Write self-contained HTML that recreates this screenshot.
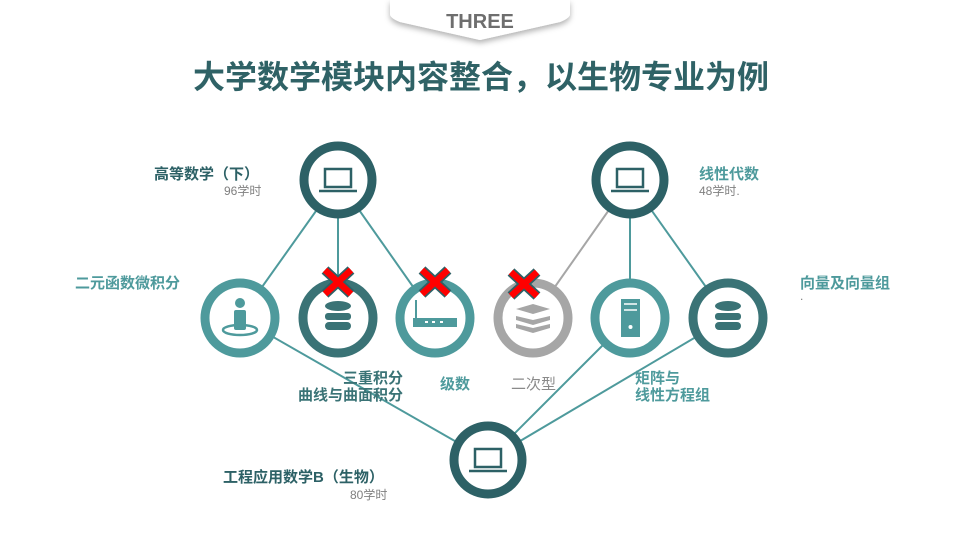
<!DOCTYPE html>
<html><head><meta charset="utf-8"><style>
body{margin:0;width:960px;height:540px;background:#fff;overflow:hidden;font-family:"Liberation Sans","Noto Sans CJK SC",sans-serif}
svg text{font-family:"Liberation Sans","Noto Sans CJK SC",sans-serif}
</style></head><body>
<svg width="960" height="540" viewBox="0 0 960 540">
<defs><filter id="sh" x="-20%" y="-50%" width="140%" height="220%"><feDropShadow dx="0" dy="3" stdDeviation="3" flood-color="#000" flood-opacity="0.3"/></filter></defs>
<path d="M390 0 L570 0 L570 14 Q570 18 560 22 L480 40 L400 22 Q390 18 390 14 Z" fill="#fff" filter="url(#sh)"/>
<text x="480" y="28" text-anchor="middle" font-size="20" font-weight="bold" fill="#6e6e6e">THREE</text>
<text x="481" y="88" text-anchor="middle" font-size="32" font-weight="bold" fill="#2f6266">大学数学模块内容整合，以生物专业为例</text>
<g stroke="#4e9a9c" stroke-width="2" fill="none">
<line x1="338" y1="180" x2="240" y2="318"/>
<line x1="338" y1="180" x2="338" y2="318"/>
<line x1="338" y1="180" x2="435" y2="318"/>
<line x1="630" y1="180" x2="630" y2="318"/>
<line x1="630" y1="180" x2="728" y2="318"/>
<line x1="240" y1="318" x2="488" y2="460"/>
<line x1="630" y1="318" x2="488" y2="460"/>
<line x1="728" y1="318" x2="488" y2="460"/>
</g>
<line x1="630" y1="180" x2="533" y2="318" stroke="#a6a6a6" stroke-width="2"/>
<g stroke-width="9" fill="#fff">
<circle cx="338" cy="180" r="34" stroke="#2d6166"/>
<circle cx="630" cy="180" r="34" stroke="#2d6166"/>
<circle cx="488" cy="460" r="34" stroke="#2d6166"/>
<circle cx="240" cy="318" r="35" stroke="#4e9a9c"/>
<circle cx="338" cy="318" r="35" stroke="#3a7376"/>
<circle cx="435" cy="318" r="35" stroke="#4e9a9c"/>
<circle cx="533" cy="318" r="35" stroke="#a6a6a6"/>
<circle cx="630" cy="318" r="35" stroke="#4e9a9c"/>
<circle cx="728" cy="318" r="35" stroke="#3a7376"/>
</g>
<g fill="none" stroke="#2d6166" stroke-width="2.5">
<rect x="325" y="169" width="26" height="18"/><line x1="319" y1="191" x2="357" y2="191"/>
<rect x="617" y="169" width="26" height="18"/><line x1="611" y1="191" x2="649" y2="191"/>
<rect x="475" y="449" width="26" height="18"/><line x1="469" y1="471" x2="507" y2="471"/>
</g>
<g fill="#4e9a9c"><circle cx="240" cy="303" r="5"/><rect x="234" y="310" width="12" height="20" rx="2"/></g>
<ellipse cx="240" cy="330" rx="17" ry="5" fill="none" stroke="#4e9a9c" stroke-width="2.5"/>
<g fill="#3a7376">
<ellipse cx="338" cy="306" rx="13" ry="5"/><rect x="325" y="313" width="26" height="7" rx="3"/><rect x="325" y="322" width="26" height="8" rx="4"/>
<ellipse cx="728" cy="306" rx="13" ry="5"/><rect x="715" y="313" width="26" height="7" rx="3"/><rect x="715" y="322" width="26" height="8" rx="4"/>
</g>
<g fill="#4e9a9c"><rect x="413" y="318" width="44" height="9"/><rect x="415" y="300" width="2" height="20"/></g>
<g fill="#fff"><rect x="425" y="321" width="3" height="2"/><rect x="432" y="321" width="3" height="2"/><rect x="440" y="321" width="3" height="2"/></g>
<g fill="#a6a6a6"><path d="M516 309 L533 304 L550 309 L533 314Z"/><path d="M516 316 L533 320 L550 316 L550 320 L533 325 L516 320Z"/><path d="M516 324 L533 328 L550 324 L550 328 L533 333 L516 328Z"/></g>
<rect x="621" y="299" width="19" height="38" fill="#4e9a9c"/><g stroke="#fff" stroke-width="1.5"><line x1="624" y1="304" x2="637" y2="304"/><line x1="624" y1="310" x2="637" y2="310"/></g><circle cx="630.5" cy="327" r="2" fill="#fff"/>
<g stroke="#2d6166" stroke-width="10">
<path d="M325 270 L351 294 M351 270 L325 294"/><path d="M422 270 L448 294 M448 270 L422 294"/><path d="M511 272 L537 296 M537 272 L511 296"/></g>
<g stroke="#f00" stroke-width="6.5">
<path d="M325 270 L351 294 M351 270 L325 294"/><path d="M422 270 L448 294 M448 270 L422 294"/><path d="M511 272 L537 296 M537 272 L511 296"/></g>
<g font-weight="bold" font-size="15">
<text x="154" y="179" fill="#2d6166">高等数学（下）</text>
<text x="699" y="179" fill="#4e9a9c">线性代数</text>
<text x="75" y="288" fill="#4e9a9c">二元函数微积分</text>
<text x="800" y="288" fill="#4e9a9c">向量及向量组</text>
<text x="403" y="383" text-anchor="end" fill="#3a7376">三重积分</text>
<text x="403" y="400" text-anchor="end" fill="#3a7376">曲线与曲面积分</text>
<text x="440" y="389" fill="#4e9a9c">级数</text>
<text x="635" y="383" fill="#4e9a9c">矩阵与</text>
<text x="635" y="400" fill="#4e9a9c">线性方程组</text>
<text x="223" y="482" fill="#2d6166">工程应用数学B（生物）</text>
</g>
<text x="511" y="389" font-size="15" fill="#8a8a8a">二次型</text>
<g font-size="12" fill="#7f7f7f">
<text x="224" y="195">96学时</text><text x="699" y="195">48学时.</text><text x="350" y="499">80学时</text><text x="800" y="300">.</text></g>
</svg>
</body></html>
